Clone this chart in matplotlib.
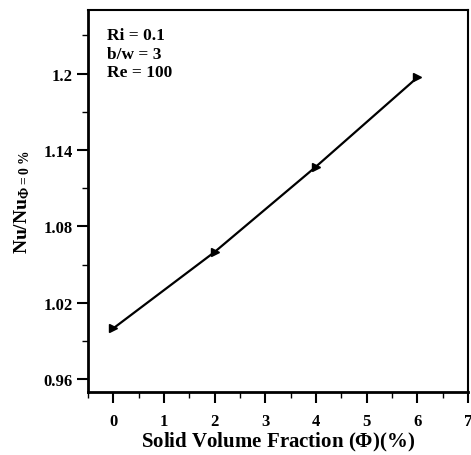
import numpy as np
import matplotlib
matplotlib.use('Agg')
import matplotlib.pyplot as plt
from matplotlib.ticker import MultipleLocator, FixedLocator

plt.rcParams['font.family'] = ['Liberation Serif', 'DejaVu Serif']
plt.rcParams['font.weight'] = 'bold'
plt.rcParams['mathtext.fontset'] = 'custom'
plt.rcParams['mathtext.rm'] = 'Liberation Serif:bold'
plt.rcParams['mathtext.it'] = 'Liberation Serif:bold'
plt.rcParams['mathtext.bf'] = 'Liberation Serif:bold'
plt.rcParams['mathtext.sf'] = 'Liberation Serif'

# solid volume fraction (%) vs normalised Nusselt number
phi = [0, 2, 4, 6]
nu_ratio = [1.0, 1.06, 1.127, 1.197]
yticks_major = [0.96, 1.02, 1.08, 1.14, 1.2]
ytick_labels = ['0.96', '1.02', '1.08', '1.14', '1.2']

fig = plt.figure(figsize=(4.71, 4.56), dpi=100)
ax = fig.add_axes([88/471, 1-393/456, 380/471, 382/456])

ax.plot(phi, nu_ratio, color='k', linewidth=1.6, marker='>', markersize=5.5)

ax.set_xlim(-0.5, 7)
ax.set_ylim(0.95, 1.25)
ax.xaxis.set_major_locator(MultipleLocator(1))
ax.xaxis.set_minor_locator(MultipleLocator(0.5))
ax.yaxis.set_major_locator(FixedLocator(yticks_major))
ax.yaxis.set_minor_locator(FixedLocator([0.99, 1.05, 1.11, 1.17, 1.23]))
ax.set_yticklabels(ytick_labels)

ax.tick_params(which='both', direction='out', top=False, right=False,
               labelsize=12, width=1.5)
ax.tick_params(which='major', length=8)
ax.tick_params(which='minor', length=4, width=1.0)
ax.tick_params(axis='x', pad=7)
ax.tick_params(axis='y', pad=3)
for lab in ax.get_xticklabels() + ax.get_yticklabels():
    lab.set_fontweight('bold')

ax.spines['left'].set_linewidth(2.0)
ax.spines['bottom'].set_linewidth(2.0)
ax.spines['top'].set_linewidth(1.5)
ax.spines['right'].set_linewidth(1.5)

ax.text(0.05, 0.955, 'Ri = 0.1\nb/w = 3\nRe = 100', transform=ax.transAxes,
        ha='left', va='top', fontsize=12.5, fontweight='bold', linespacing=1.22)

ax.set_xlabel(r'Solid Volume Fraction ($\mathsf{\Phi}$)(%)', fontsize=15, fontweight='bold', labelpad=1)
ax.set_ylabel(r'Nu/Nu$_{\mathsf{\Phi}=0\ \%}$', fontsize=14, fontweight='bold', labelpad=8)

fig.savefig('out.png', dpi=100)
